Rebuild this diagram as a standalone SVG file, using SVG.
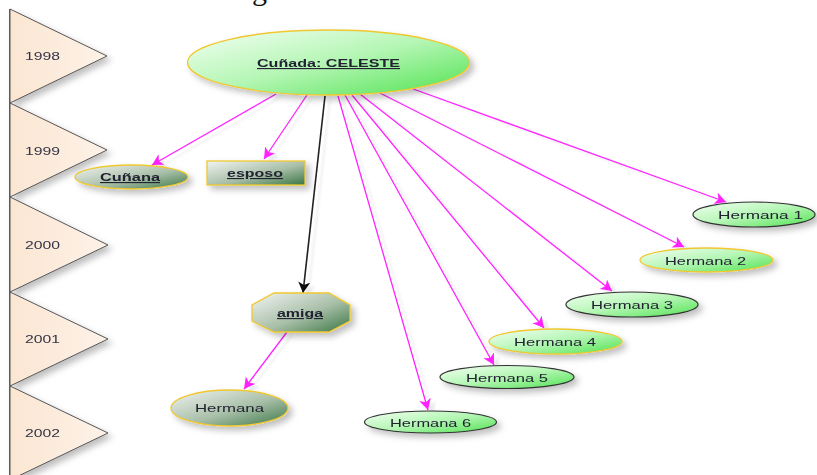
<svg xmlns="http://www.w3.org/2000/svg" width="817" height="475" viewBox="0 0 817 475">
  <style>
    .lbl { font-family: "Liberation Sans", Arial, sans-serif; font-size: 11.5px; fill: #222233; }
    .b { font-weight: bold; text-decoration: underline; }
    .yr { font-family: "Liberation Sans", Arial, sans-serif; font-size: 11px; fill: #333344; }
    .tri { fill: url(#peach); stroke: #555; stroke-width: 1; }
    .green { fill: url(#green); }
    .sage { fill: url(#sage); }
    .ey { stroke: #f0c830; stroke-width: 1.3; }
    .ed { stroke: #333; stroke-width: 1.2; }
    .mg { stroke: #ff22ff; stroke-width: 1.3; fill: none; marker-end: url(#amag); }
    .bk { stroke: #222; stroke-width: 1.6; fill: none; marker-end: url(#ablk); }
  </style>
  <defs>
    <linearGradient id="green" x1="0" y1="0" x2="1" y2="1">
      <stop offset="0" stop-color="#f4fff4"/>
      <stop offset="0.5" stop-color="#b4f6b4"/>
      <stop offset="1" stop-color="#4fe24f"/>
    </linearGradient>
    <linearGradient id="sage" x1="0" y1="0" x2="1" y2="1">
      <stop offset="0" stop-color="#f2f4f2"/>
      <stop offset="0.55" stop-color="#a8bfa8"/>
      <stop offset="1" stop-color="#3a7644"/>
    </linearGradient>
    <linearGradient id="peach" x1="0" y1="0" x2="1" y2="0">
      <stop offset="0" stop-color="#fbe6d2"/>
      <stop offset="1" stop-color="#fdf2e8"/>
    </linearGradient>
    <filter id="sh" x="-20%" y="-30%" width="150%" height="180%">
      <feDropShadow dx="4" dy="4" stdDeviation="3" flood-color="#000" flood-opacity="0.25"/>
    </filter>
    <filter id="lsh" x="-10%" y="-10%" width="130%" height="130%">
      <feDropShadow dx="5" dy="3" stdDeviation="1" flood-color="#000" flood-opacity="0.08"/>
    </filter>
    <marker id="amag" markerUnits="userSpaceOnUse" markerWidth="14" markerHeight="14" refX="11" refY="6" orient="auto">
      <path d="M0,0 L11,6 L0,12 L3,6 z" fill="#ff22ff"/>
    </marker>
    <marker id="ablk" markerUnits="userSpaceOnUse" markerWidth="14" markerHeight="14" refX="11" refY="6" orient="auto">
      <path d="M0,0 L11,6 L0,12 L3,6 z" fill="#111"/>
    </marker>
  </defs>

  <rect width="817" height="475" fill="#fff"/>

  <!-- heading, running off the top edge -->
  <text x="252" y="0" font-family="'Liberation Serif', serif" font-size="30" fill="#111">g</text>

  <!-- timeline -->
  <g id="timeline">
    <line x1="10" y1="9" x2="10" y2="475" stroke="#333" stroke-width="1.5"/>
    <g id="y1998" filter="url(#sh)">
      <polygon class="tri" points="10,9 107,56 10,103"/>
      <text class="yr" x="25" y="60" textLength="35" lengthAdjust="spacingAndGlyphs">1998</text>
    </g>
    <g id="y1999" filter="url(#sh)">
      <polygon class="tri" points="10,103 107,150 10,197"/>
      <text class="yr" x="25" y="155" textLength="35" lengthAdjust="spacingAndGlyphs">1999</text>
    </g>
    <g id="y2000" filter="url(#sh)">
      <polygon class="tri" points="10,197 108,245 10,292"/>
      <text class="yr" x="25" y="249" textLength="35" lengthAdjust="spacingAndGlyphs">2000</text>
    </g>
    <g id="y2001" filter="url(#sh)">
      <polygon class="tri" points="10,292 108,339 10,386"/>
      <text class="yr" x="25" y="343" textLength="35" lengthAdjust="spacingAndGlyphs">2001</text>
    </g>
    <g id="y2002" filter="url(#sh)">
      <polygon class="tri" points="10,386 108,433 10,480"/>
      <text class="yr" x="25" y="437" textLength="35" lengthAdjust="spacingAndGlyphs">2002</text>
    </g>
  </g>

  <!-- connectors -->
  <g id="connectors" filter="url(#lsh)">
    <line class="mg" x1="276" y1="94" x2="152" y2="165"/>
    <line class="mg" x1="307" y1="95" x2="264" y2="159"/>
    <line class="bk" x1="325" y1="96" x2="303" y2="293"/>
    <line class="mg" x1="338" y1="96" x2="428" y2="410"/>
    <line class="mg" x1="345" y1="95" x2="494" y2="365"/>
    <line class="mg" x1="352" y1="95" x2="544" y2="328"/>
    <line class="mg" x1="360" y1="94" x2="612" y2="291"/>
    <line class="mg" x1="378" y1="92" x2="684" y2="247"/>
    <line class="mg" x1="405" y1="86" x2="726" y2="202"/>
    <line class="mg" x1="287" y1="332" x2="244" y2="389"/>
  </g>

  <!-- nodes -->
  <g id="celeste" filter="url(#sh)">
    <ellipse class="green ey" cx="328.5" cy="62.5" rx="141" ry="32.5"/>
    <text class="lbl b" x="257" y="67" textLength="143" lengthAdjust="spacingAndGlyphs">Cuñada: CELESTE</text>
  </g>
  <g id="cunana" filter="url(#sh)">
    <ellipse class="sage ey" cx="131.5" cy="177" rx="56.5" ry="12"/>
    <text class="lbl b" x="100" y="181" textLength="60" lengthAdjust="spacingAndGlyphs">Cuñana</text>
  </g>
  <g id="esposo" filter="url(#sh)">
    <rect class="sage ey" x="207" y="161" width="98" height="24"/>
    <text class="lbl b" x="227" y="177" textLength="56" lengthAdjust="spacingAndGlyphs">esposo</text>
  </g>
  <g id="amiga" filter="url(#sh)">
    <polygon class="sage ey" points="274,293 329,293 350,305 350,321 329,332 274,332 252,321 252,305"/>
    <text class="lbl b" x="277" y="317" textLength="46" lengthAdjust="spacingAndGlyphs">amiga</text>
  </g>
  <g id="hermana" filter="url(#sh)">
    <ellipse class="sage ey" cx="229.5" cy="408" rx="58.5" ry="18"/>
    <text class="lbl" x="195" y="412" textLength="69" lengthAdjust="spacingAndGlyphs">Hermana</text>
  </g>
  <g id="hermana1" filter="url(#sh)">
    <ellipse class="green ed" cx="754" cy="214.5" rx="61" ry="12.5"/>
    <text class="lbl" x="718" y="219" textLength="85" lengthAdjust="spacingAndGlyphs">Hermana 1</text>
  </g>
  <g id="hermana2" filter="url(#sh)">
    <ellipse class="green ey" cx="706.5" cy="260" rx="66.5" ry="12"/>
    <text class="lbl" x="665" y="264.5" textLength="81" lengthAdjust="spacingAndGlyphs">Hermana 2</text>
  </g>
  <g id="hermana3" filter="url(#sh)">
    <ellipse class="green ed" cx="632" cy="304.5" rx="66" ry="12.5"/>
    <text class="lbl" x="591" y="309" textLength="82" lengthAdjust="spacingAndGlyphs">Hermana 3</text>
  </g>
  <g id="hermana4" filter="url(#sh)">
    <ellipse class="green ey" cx="555.5" cy="341.5" rx="66.5" ry="12.5"/>
    <text class="lbl" x="514" y="346" textLength="82" lengthAdjust="spacingAndGlyphs">Hermana 4</text>
  </g>
  <g id="hermana5" filter="url(#sh)">
    <ellipse class="green ed" cx="507" cy="377" rx="67" ry="11.5"/>
    <text class="lbl" x="466" y="381.5" textLength="82" lengthAdjust="spacingAndGlyphs">Hermana 5</text>
  </g>
  <g id="hermana6" filter="url(#sh)">
    <ellipse class="green ed" cx="430.5" cy="422" rx="66" ry="11"/>
    <text class="lbl" x="390" y="426.5" textLength="81" lengthAdjust="spacingAndGlyphs">Hermana 6</text>
  </g>
</svg>
